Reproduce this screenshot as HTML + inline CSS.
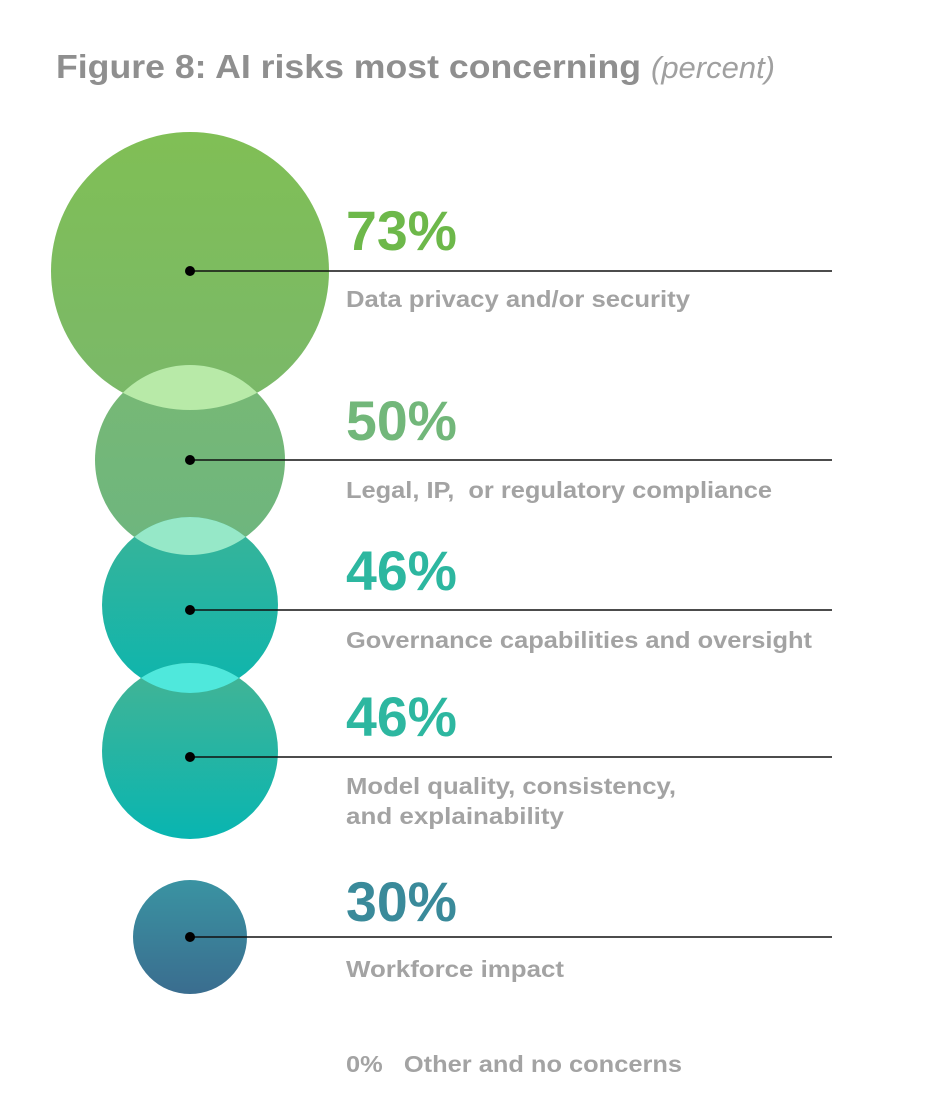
<!DOCTYPE html>
<html><head><meta charset="utf-8"><style>
html,body{margin:0;padding:0;background:#fff;}
svg{display:block;font-family:"Liberation Sans",sans-serif;}
</style></head><body>
<svg width="932" height="1112" viewBox="0 0 932 1112" xmlns="http://www.w3.org/2000/svg">
<defs>
<linearGradient id="g1" x1="0" y1="0" x2="0" y2="1"><stop offset="0" stop-color="#80bf55"/><stop offset="1" stop-color="#7ab86a"/></linearGradient>
<linearGradient id="g2" x1="0" y1="0" x2="0" y2="1"><stop offset="0" stop-color="#78b874"/><stop offset="1" stop-color="#6db67f"/></linearGradient>
<linearGradient id="g3" x1="0" y1="0" x2="0" y2="1"><stop offset="0" stop-color="#3ab498"/><stop offset="1" stop-color="#0cb5ae"/></linearGradient>
<linearGradient id="g4" x1="0" y1="0" x2="0" y2="1"><stop offset="0" stop-color="#45b494"/><stop offset="1" stop-color="#08b5b1"/></linearGradient>
<linearGradient id="g5" x1="0" y1="0" x2="0" y2="1"><stop offset="0" stop-color="#3a93a2"/><stop offset="1" stop-color="#3a6d8f"/></linearGradient>
<clipPath id="c1"><circle cx="190" cy="271" r="139"/></clipPath>
<clipPath id="c3"><circle cx="190" cy="605" r="88"/></clipPath>
<clipPath id="c4"><circle cx="190" cy="751" r="88"/></clipPath>
</defs>
<text x="56" y="78" font-size="33" font-weight="bold" fill="#8f8f8f" textLength="585" lengthAdjust="spacingAndGlyphs">Figure 8: AI risks most concerning</text>
<text x="651" y="78" font-size="31" font-style="italic" fill="#a0a0a0" textLength="124" lengthAdjust="spacingAndGlyphs">(percent)</text>

<circle cx="190" cy="271" r="139" fill="url(#g1)"/>
<circle cx="190" cy="460" r="95" fill="url(#g2)"/>
<circle cx="190" cy="460" r="95" fill="#b8eaa8" clip-path="url(#c1)"/>
<circle cx="190" cy="605" r="88" fill="url(#g3)"/>
<circle cx="190" cy="460" r="95" fill="#96e8c8" clip-path="url(#c3)"/>
<circle cx="190" cy="751" r="88" fill="url(#g4)"/>
<circle cx="190" cy="605" r="88" fill="#4fe8dc" clip-path="url(#c4)"/>
<circle cx="190" cy="937" r="57" fill="url(#g5)"/>

<g stroke="#111" stroke-width="1.6">
<line x1="190" y1="271" x2="832" y2="271"/>
<line x1="190" y1="460" x2="832" y2="460"/>
<line x1="190" y1="610" x2="832" y2="610"/>
<line x1="190" y1="757" x2="832" y2="757"/>
<line x1="190" y1="937" x2="832" y2="937"/>
</g>
<g fill="#000">
<circle cx="190" cy="271" r="5"/><circle cx="190" cy="460" r="5"/><circle cx="190" cy="610" r="5"/><circle cx="190" cy="757" r="5"/><circle cx="190" cy="937" r="5"/>
</g>

<g font-size="56" font-weight="bold">
<text x="346" y="250" fill="#6db84a" textLength="111" lengthAdjust="spacingAndGlyphs">73%</text>
<text x="346" y="440" fill="#72b77a" textLength="111" lengthAdjust="spacingAndGlyphs">50%</text>
<text x="346" y="590" fill="#2db7a0" textLength="111" lengthAdjust="spacingAndGlyphs">46%</text>
<text x="346" y="736" fill="#2db7a0" textLength="111" lengthAdjust="spacingAndGlyphs">46%</text>
<text x="346" y="921" fill="#3a8a9a" textLength="111" lengthAdjust="spacingAndGlyphs">30%</text>
</g>
<g font-size="23" font-weight="bold" fill="#a3a3a3" xml:space="preserve">
<text x="346" y="307" textLength="344" lengthAdjust="spacingAndGlyphs">Data privacy and/or security</text>
<text x="346" y="498" textLength="426" lengthAdjust="spacingAndGlyphs">Legal, IP,&#160; or regulatory compliance</text>
<text x="346" y="648" textLength="466" lengthAdjust="spacingAndGlyphs">Governance capabilities and oversight</text>
<text x="346" y="794" textLength="330" lengthAdjust="spacingAndGlyphs">Model quality, consistency,</text>
<text x="346" y="824" textLength="218" lengthAdjust="spacingAndGlyphs">and explainability</text>
<text x="346" y="977" textLength="218" lengthAdjust="spacingAndGlyphs">Workforce impact</text>
<text x="346" y="1072" textLength="336" lengthAdjust="spacingAndGlyphs">0%&#160;&#160; Other and no concerns</text>
</g>
</svg>
</body></html>
